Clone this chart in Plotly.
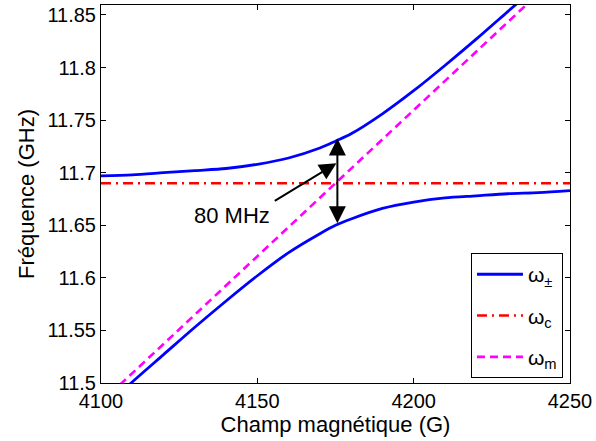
import plotly.graph_objects as go

# Magnetic field (G)
field = [4100, 4110, 4120, 4130, 4140, 4150, 4160, 4170, 4175, 4180, 4190, 4200, 4210, 4220, 4230, 4240, 4250]
# Upper and lower coupled branches (GHz)
omega_plus = [11.697, 11.698, 11.700, 11.702, 11.704, 11.708, 11.714, 11.7235, 11.730, 11.737, 11.756, 11.778, 11.802, 11.827, 11.853, 11.879, 11.906]
omega_minus = [11.474, 11.501, 11.527, 11.553, 11.578, 11.602, 11.624, 11.642, 11.650, 11.656, 11.666, 11.672, 11.676, 11.678, 11.680, 11.681, 11.683]
# Cavity mode (GHz)
cav_field = [4100, 4250]
omega_c = [11.69, 11.69]
# Magnon mode (GHz)
mag_field = [4100, 4250]
omega_m = [11.4815, 11.8985]

xticks = [4100, 4150, 4200, 4250]
yticks = [11.5, 11.55, 11.6, 11.65, 11.7, 11.75, 11.8, 11.85]
yticktext = ["11.5", "11.55", "11.6", "11.65", "11.7", "11.75", "11.8", "11.85"]

font = "Liberation Sans, Arial, sans-serif"

fig = go.Figure()
fig.add_trace(go.Scatter(x=field, y=omega_plus, mode="lines", name="ω<sub>±</sub>",
                         line=dict(color="#0000ff", width=2.8, shape="spline", smoothing=0.8),
                         legendgroup="a"))
fig.add_trace(go.Scatter(x=field, y=omega_minus, mode="lines", showlegend=False,
                         line=dict(color="#0000ff", width=2.8, shape="spline", smoothing=0.8),
                         legendgroup="a"))
fig.add_trace(go.Scatter(x=cav_field, y=omega_c, mode="lines", name="ω<sub>c</sub>",
                         line=dict(color="#ff0000", width=2.6, dash="10px,5px,2px,5px"),
                         legendgroup="b"))
fig.add_trace(go.Scatter(x=mag_field, y=omega_m, mode="lines", name="ω<sub>m</sub>",
                         line=dict(color="#ff00ff", width=2.6, dash="8px,5px"),
                         legendgroup="c"))

# double arrow showing the gap
fig.add_annotation(x=4175.6, y=11.652, ax=4175.6, ay=11.734, xref="x", yref="y",
                   axref="x", ayref="y", text="", showarrow=True, arrowhead=2,
                   arrowside="end+start", arrowsize=1.7, arrowwidth=2, arrowcolor="black")
# pointer arrow
fig.add_annotation(x=4175.3, y=11.709, ax=4155.1, ay=11.6724, xref="x", yref="y",
                   axref="x", ayref="y", text="", showarrow=True, arrowhead=2,
                   arrowsize=1.7, arrowwidth=2, arrowcolor="black")
fig.add_annotation(x=4142, y=11.659, xref="x", yref="y", text="80 MHz", showarrow=False,
                   font=dict(family=font, size=22, color="black"))

axis_common = dict(showline=True, linecolor="black", linewidth=1, mirror="ticks",
                   ticks="inside", ticklen=5, tickcolor="black", showgrid=False,
                   zeroline=False, tickfont=dict(family=font, size=20, color="black"))

fig.update_layout(
    width=596, height=441,
    margin=dict(l=101, r=26, t=5, b=58),
    paper_bgcolor="white", plot_bgcolor="white",
    font=dict(family=font, size=20, color="black"),
    xaxis=dict(range=[4100, 4250], tickvals=xticks,
               title=dict(text="Champ magnétique (G)", font=dict(family=font, size=22), standoff=2),
               **axis_common),
    yaxis=dict(range=[11.5, 11.8595], tickvals=yticks, ticktext=yticktext,
               title=dict(text="Fréquence (GHz)", font=dict(family=font, size=22), standoff=6),
               **axis_common),
    legend=dict(x=0.985, y=0.013, xanchor="right", yanchor="bottom",
                bordercolor="black", borderwidth=1, bgcolor="white",
                font=dict(family=font, size=21), tracegroupgap=11, traceorder="grouped",
                itemwidth=46),
    showlegend=True,
)

fig.write_html("out.html")
